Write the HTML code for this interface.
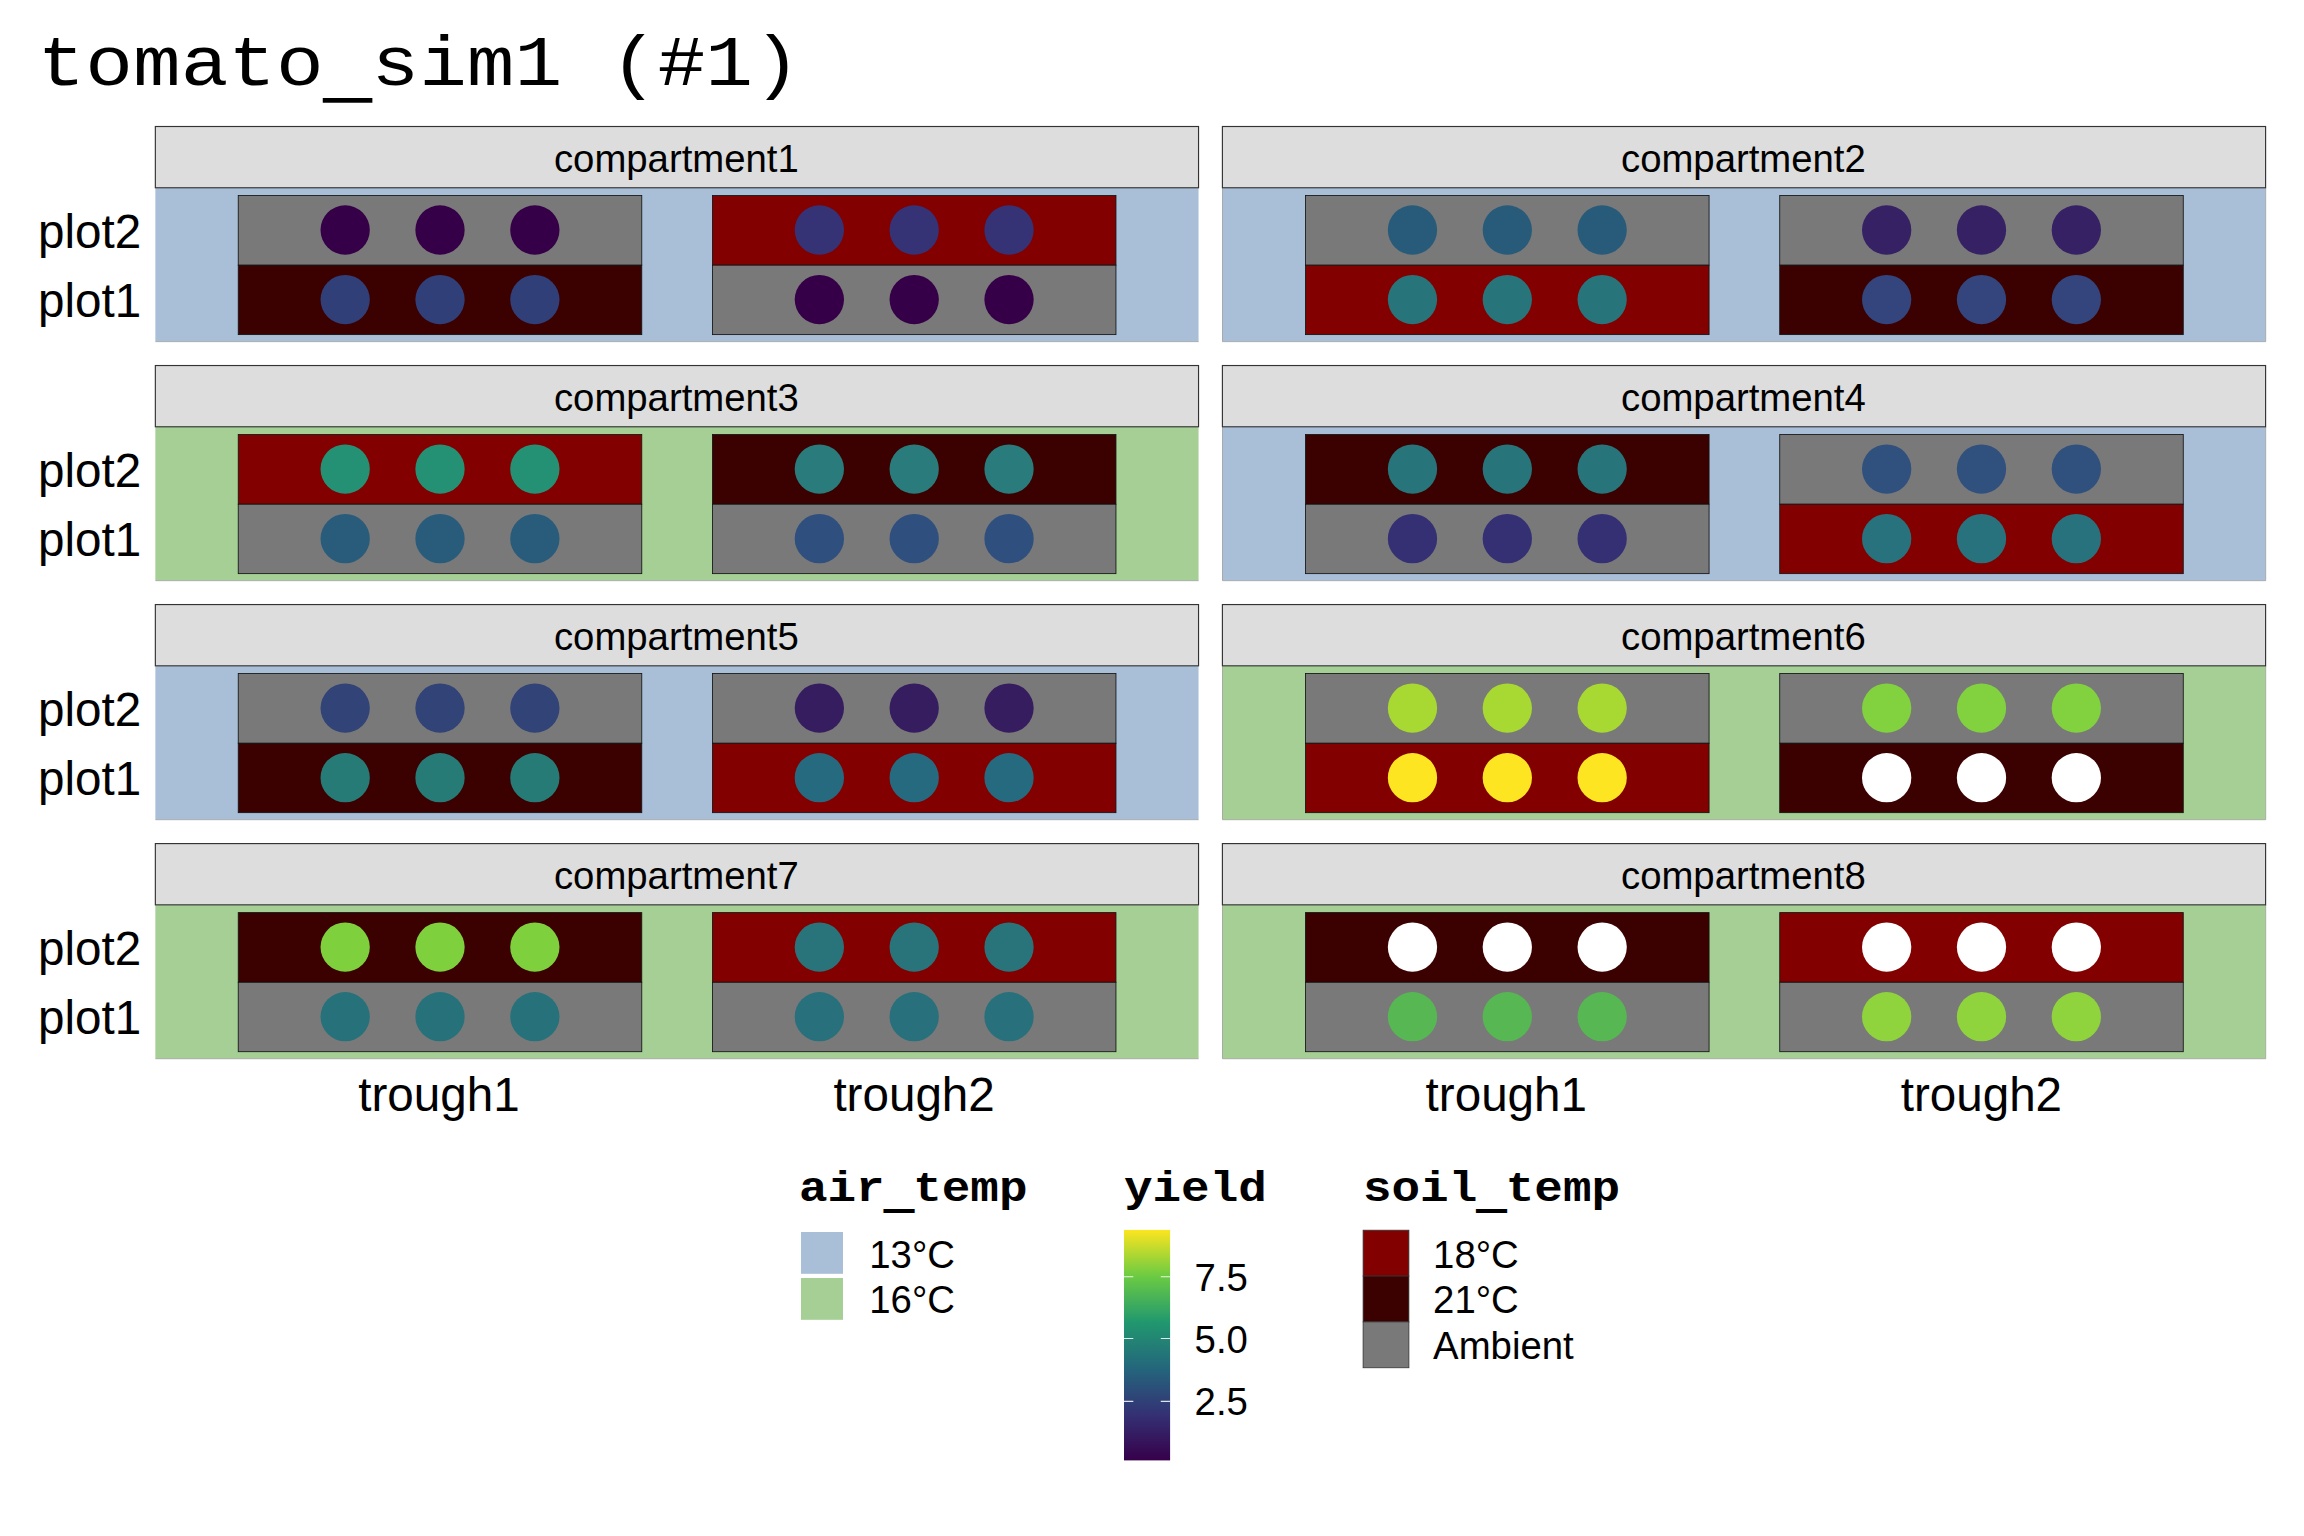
<!DOCTYPE html>
<html lang="en">
<head>
<meta charset="utf-8">
<title>tomato_sim1 (#1)</title>
<style>
html,body{margin:0;padding:0;background:#fff;}
body{width:2304px;height:1536px;overflow:hidden;}
svg{display:block;}
text{fill:#000;}
.sans{font-family:'Liberation Sans', sans-serif;}
.mono{font-family:'Liberation Mono', monospace;}
.title{font-size:79.5px;}
.axis{font-size:47.6px;}
.strip{font-size:38.3px;text-anchor:middle;}
.lab{font-size:38.35px;}
.ltitle{font-size:47.6px;font-weight:bold;}
</style>
</head>
<body>
<svg width="2304" height="1536" viewBox="0 0 2304 1536">
<rect x="0" y="0" width="2304" height="1536" fill="#ffffff"/>
<g transform="translate(0,84.6) scale(1,0.885) translate(0,-84.6)"><text class="mono title" x="37.6" y="84.6">tomato<tspan dy="11" stroke="#000" stroke-width="1.6">_</tspan><tspan dy="-11">sim1 (#1)</tspan></text></g>
<g>
<rect x="155.35" y="187.75" width="1043.2" height="153.8" fill="#A9BFD8"/>
<path d="M1198.65 341.65 H155.45" fill="none" stroke="#909090" stroke-opacity="0.8" stroke-width="0.8"/>
<rect x="238.24" y="195.5" width="403.53" height="69.7" fill="#797979" stroke="#141414" stroke-width="0.85"/>
<rect x="238.24" y="265.2" width="403.53" height="69.4" fill="#3B0000" stroke="#141414" stroke-width="0.85"/>
<circle cx="345.17" cy="230" r="24.65" fill="#350047"/><circle cx="440.01" cy="230" r="24.65" fill="#350047"/><circle cx="534.85" cy="230" r="24.65" fill="#350047"/>
<circle cx="345.17" cy="299.6" r="24.65" fill="#313F78"/><circle cx="440.01" cy="299.6" r="24.65" fill="#313F78"/><circle cx="534.85" cy="299.6" r="24.65" fill="#313F78"/>
<rect x="712.43" y="195.5" width="403.53" height="69.7" fill="#820000" stroke="#141414" stroke-width="0.85"/>
<rect x="712.43" y="265.2" width="403.53" height="69.4" fill="#797979" stroke="#141414" stroke-width="0.85"/>
<circle cx="819.35" cy="230" r="24.65" fill="#353375"/><circle cx="914.19" cy="230" r="24.65" fill="#353375"/><circle cx="1009.03" cy="230" r="24.65" fill="#353375"/>
<circle cx="819.35" cy="299.6" r="24.65" fill="#350047"/><circle cx="914.19" cy="299.6" r="24.65" fill="#350047"/><circle cx="1009.03" cy="299.6" r="24.65" fill="#350047"/>
<rect x="155.35" y="126.5" width="1043.2" height="61.25" fill="#DDDDDD" stroke="#333333" stroke-width="1.15"/>
<text class="sans strip" x="676.35" y="171.6">compartment1</text>
<text class="sans axis" text-anchor="end" x="141.3" y="247.8">plot2</text>
<text class="sans axis" text-anchor="end" x="141.3" y="317">plot1</text>
</g>
<g>
<rect x="1222.4" y="187.75" width="1043.2" height="153.8" fill="#A9BFD8"/>
<path d="M2265.7 187.75 V341.65 H1222.5 V187.75" fill="none" stroke="#909090" stroke-opacity="0.8" stroke-width="0.8"/>
<rect x="1305.54" y="195.5" width="403.53" height="69.7" fill="#797979" stroke="#141414" stroke-width="0.85"/>
<rect x="1305.54" y="265.2" width="403.53" height="69.4" fill="#820000" stroke="#141414" stroke-width="0.85"/>
<circle cx="1412.47" cy="230" r="24.65" fill="#285B7A"/><circle cx="1507.31" cy="230" r="24.65" fill="#285B7A"/><circle cx="1602.15" cy="230" r="24.65" fill="#285B7A"/>
<circle cx="1412.47" cy="299.6" r="24.65" fill="#27747A"/><circle cx="1507.31" cy="299.6" r="24.65" fill="#27747A"/><circle cx="1602.15" cy="299.6" r="24.65" fill="#27747A"/>
<rect x="1779.73" y="195.5" width="403.53" height="69.7" fill="#797979" stroke="#141414" stroke-width="0.85"/>
<rect x="1779.73" y="265.2" width="403.53" height="69.4" fill="#3B0000" stroke="#141414" stroke-width="0.85"/>
<circle cx="1886.65" cy="230" r="24.65" fill="#352163"/><circle cx="1981.49" cy="230" r="24.65" fill="#352163"/><circle cx="2076.33" cy="230" r="24.65" fill="#352163"/>
<circle cx="1886.65" cy="299.6" r="24.65" fill="#33457C"/><circle cx="1981.49" cy="299.6" r="24.65" fill="#33457C"/><circle cx="2076.33" cy="299.6" r="24.65" fill="#33457C"/>
<rect x="1222.4" y="126.5" width="1043.2" height="61.25" fill="#DDDDDD" stroke="#333333" stroke-width="1.15"/>
<text class="sans strip" x="1743.4" y="171.6">compartment2</text>
</g>
<g>
<rect x="155.35" y="426.78" width="1043.2" height="153.8" fill="#A5CF94"/>
<path d="M1198.65 580.68 H155.45" fill="none" stroke="#909090" stroke-opacity="0.8" stroke-width="0.8"/>
<rect x="238.24" y="434.53" width="403.53" height="69.7" fill="#820000" stroke="#141414" stroke-width="0.85"/>
<rect x="238.24" y="504.23" width="403.53" height="69.4" fill="#797979" stroke="#141414" stroke-width="0.85"/>
<circle cx="345.17" cy="469.03" r="24.65" fill="#259174"/><circle cx="440.01" cy="469.03" r="24.65" fill="#259174"/><circle cx="534.85" cy="469.03" r="24.65" fill="#259174"/>
<circle cx="345.17" cy="538.63" r="24.65" fill="#295C7B"/><circle cx="440.01" cy="538.63" r="24.65" fill="#295C7B"/><circle cx="534.85" cy="538.63" r="24.65" fill="#295C7B"/>
<rect x="712.43" y="434.53" width="403.53" height="69.7" fill="#3B0000" stroke="#141414" stroke-width="0.85"/>
<rect x="712.43" y="504.23" width="403.53" height="69.4" fill="#797979" stroke="#141414" stroke-width="0.85"/>
<circle cx="819.35" cy="469.03" r="24.65" fill="#2A7B7B"/><circle cx="914.19" cy="469.03" r="24.65" fill="#2A7B7B"/><circle cx="1009.03" cy="469.03" r="24.65" fill="#2A7B7B"/>
<circle cx="819.35" cy="538.63" r="24.65" fill="#2F4F7E"/><circle cx="914.19" cy="538.63" r="24.65" fill="#2F4F7E"/><circle cx="1009.03" cy="538.63" r="24.65" fill="#2F4F7E"/>
<rect x="155.35" y="365.53" width="1043.2" height="61.25" fill="#DDDDDD" stroke="#333333" stroke-width="1.15"/>
<text class="sans strip" x="676.35" y="410.63">compartment3</text>
<text class="sans axis" text-anchor="end" x="141.3" y="486.83">plot2</text>
<text class="sans axis" text-anchor="end" x="141.3" y="556.03">plot1</text>
</g>
<g>
<rect x="1222.4" y="426.78" width="1043.2" height="153.8" fill="#A9BFD8"/>
<path d="M2265.7 426.78 V580.68 H1222.5 V426.78" fill="none" stroke="#909090" stroke-opacity="0.8" stroke-width="0.8"/>
<rect x="1305.54" y="434.53" width="403.53" height="69.7" fill="#3B0000" stroke="#141414" stroke-width="0.85"/>
<rect x="1305.54" y="504.23" width="403.53" height="69.4" fill="#797979" stroke="#141414" stroke-width="0.85"/>
<circle cx="1412.47" cy="469.03" r="24.65" fill="#27757A"/><circle cx="1507.31" cy="469.03" r="24.65" fill="#27757A"/><circle cx="1602.15" cy="469.03" r="24.65" fill="#27757A"/>
<circle cx="1412.47" cy="538.63" r="24.65" fill="#343073"/><circle cx="1507.31" cy="538.63" r="24.65" fill="#343073"/><circle cx="1602.15" cy="538.63" r="24.65" fill="#343073"/>
<rect x="1779.73" y="434.53" width="403.53" height="69.7" fill="#797979" stroke="#141414" stroke-width="0.85"/>
<rect x="1779.73" y="504.23" width="403.53" height="69.4" fill="#820000" stroke="#141414" stroke-width="0.85"/>
<circle cx="1886.65" cy="469.03" r="24.65" fill="#30507E"/><circle cx="1981.49" cy="469.03" r="24.65" fill="#30507E"/><circle cx="2076.33" cy="469.03" r="24.65" fill="#30507E"/>
<circle cx="1886.65" cy="538.63" r="24.65" fill="#28727D"/><circle cx="1981.49" cy="538.63" r="24.65" fill="#28727D"/><circle cx="2076.33" cy="538.63" r="24.65" fill="#28727D"/>
<rect x="1222.4" y="365.53" width="1043.2" height="61.25" fill="#DDDDDD" stroke="#333333" stroke-width="1.15"/>
<text class="sans strip" x="1743.4" y="410.63">compartment4</text>
</g>
<g>
<rect x="155.35" y="665.81" width="1043.2" height="153.8" fill="#A9BFD8"/>
<path d="M1198.65 819.71 H155.45" fill="none" stroke="#909090" stroke-opacity="0.8" stroke-width="0.8"/>
<rect x="238.24" y="673.56" width="403.53" height="69.7" fill="#797979" stroke="#141414" stroke-width="0.85"/>
<rect x="238.24" y="743.26" width="403.53" height="69.4" fill="#3B0000" stroke="#141414" stroke-width="0.85"/>
<circle cx="345.17" cy="708.06" r="24.65" fill="#314377"/><circle cx="440.01" cy="708.06" r="24.65" fill="#314377"/><circle cx="534.85" cy="708.06" r="24.65" fill="#314377"/>
<circle cx="345.17" cy="777.66" r="24.65" fill="#277B77"/><circle cx="440.01" cy="777.66" r="24.65" fill="#277B77"/><circle cx="534.85" cy="777.66" r="24.65" fill="#277B77"/>
<rect x="712.43" y="673.56" width="403.53" height="69.7" fill="#797979" stroke="#141414" stroke-width="0.85"/>
<rect x="712.43" y="743.26" width="403.53" height="69.4" fill="#820000" stroke="#141414" stroke-width="0.85"/>
<circle cx="819.35" cy="708.06" r="24.65" fill="#351D5F"/><circle cx="914.19" cy="708.06" r="24.65" fill="#351D5F"/><circle cx="1009.03" cy="708.06" r="24.65" fill="#351D5F"/>
<circle cx="819.35" cy="777.66" r="24.65" fill="#266A80"/><circle cx="914.19" cy="777.66" r="24.65" fill="#266A80"/><circle cx="1009.03" cy="777.66" r="24.65" fill="#266A80"/>
<rect x="155.35" y="604.56" width="1043.2" height="61.25" fill="#DDDDDD" stroke="#333333" stroke-width="1.15"/>
<text class="sans strip" x="676.35" y="649.66">compartment5</text>
<text class="sans axis" text-anchor="end" x="141.3" y="725.86">plot2</text>
<text class="sans axis" text-anchor="end" x="141.3" y="795.06">plot1</text>
</g>
<g>
<rect x="1222.4" y="665.81" width="1043.2" height="153.8" fill="#A5CF94"/>
<path d="M2265.7 665.81 V819.71 H1222.5 V665.81" fill="none" stroke="#909090" stroke-opacity="0.8" stroke-width="0.8"/>
<rect x="1305.54" y="673.56" width="403.53" height="69.7" fill="#797979" stroke="#141414" stroke-width="0.85"/>
<rect x="1305.54" y="743.26" width="403.53" height="69.4" fill="#820000" stroke="#141414" stroke-width="0.85"/>
<circle cx="1412.47" cy="708.06" r="24.65" fill="#A8D933"/><circle cx="1507.31" cy="708.06" r="24.65" fill="#A8D933"/><circle cx="1602.15" cy="708.06" r="24.65" fill="#A8D933"/>
<circle cx="1412.47" cy="777.66" r="24.65" fill="#FDE621"/><circle cx="1507.31" cy="777.66" r="24.65" fill="#FDE621"/><circle cx="1602.15" cy="777.66" r="24.65" fill="#FDE621"/>
<rect x="1779.73" y="673.56" width="403.53" height="69.7" fill="#797979" stroke="#141414" stroke-width="0.85"/>
<rect x="1779.73" y="743.26" width="403.53" height="69.4" fill="#3B0000" stroke="#141414" stroke-width="0.85"/>
<circle cx="1886.65" cy="708.06" r="24.65" fill="#82D13F"/><circle cx="1981.49" cy="708.06" r="24.65" fill="#82D13F"/><circle cx="2076.33" cy="708.06" r="24.65" fill="#82D13F"/>
<circle cx="1886.65" cy="777.66" r="24.65" fill="#FFFFFF"/><circle cx="1981.49" cy="777.66" r="24.65" fill="#FFFFFF"/><circle cx="2076.33" cy="777.66" r="24.65" fill="#FFFFFF"/>
<rect x="1222.4" y="604.56" width="1043.2" height="61.25" fill="#DDDDDD" stroke="#333333" stroke-width="1.15"/>
<text class="sans strip" x="1743.4" y="649.66">compartment6</text>
</g>
<g>
<rect x="155.35" y="904.84" width="1043.2" height="153.8" fill="#A5CF94"/>
<path d="M1198.65 1058.74 H155.45" fill="none" stroke="#909090" stroke-opacity="0.8" stroke-width="0.8"/>
<rect x="238.24" y="912.59" width="403.53" height="69.7" fill="#3B0000" stroke="#141414" stroke-width="0.85"/>
<rect x="238.24" y="982.29" width="403.53" height="69.4" fill="#797979" stroke="#141414" stroke-width="0.85"/>
<circle cx="345.17" cy="947.09" r="24.65" fill="#7FD03D"/><circle cx="440.01" cy="947.09" r="24.65" fill="#7FD03D"/><circle cx="534.85" cy="947.09" r="24.65" fill="#7FD03D"/>
<circle cx="345.17" cy="1016.69" r="24.65" fill="#27727A"/><circle cx="440.01" cy="1016.69" r="24.65" fill="#27727A"/><circle cx="534.85" cy="1016.69" r="24.65" fill="#27727A"/>
<rect x="712.43" y="912.59" width="403.53" height="69.7" fill="#820000" stroke="#141414" stroke-width="0.85"/>
<rect x="712.43" y="982.29" width="403.53" height="69.4" fill="#797979" stroke="#141414" stroke-width="0.85"/>
<circle cx="819.35" cy="947.09" r="24.65" fill="#29747B"/><circle cx="914.19" cy="947.09" r="24.65" fill="#29747B"/><circle cx="1009.03" cy="947.09" r="24.65" fill="#29747B"/>
<circle cx="819.35" cy="1016.69" r="24.65" fill="#28707B"/><circle cx="914.19" cy="1016.69" r="24.65" fill="#28707B"/><circle cx="1009.03" cy="1016.69" r="24.65" fill="#28707B"/>
<rect x="155.35" y="843.59" width="1043.2" height="61.25" fill="#DDDDDD" stroke="#333333" stroke-width="1.15"/>
<text class="sans strip" x="676.35" y="888.69">compartment7</text>
<text class="sans axis" text-anchor="end" x="141.3" y="964.89">plot2</text>
<text class="sans axis" text-anchor="end" x="141.3" y="1034.09">plot1</text>
</g>
<g>
<rect x="1222.4" y="904.84" width="1043.2" height="153.8" fill="#A5CF94"/>
<path d="M2265.7 904.84 V1058.74 H1222.5 V904.84" fill="none" stroke="#909090" stroke-opacity="0.8" stroke-width="0.8"/>
<rect x="1305.54" y="912.59" width="403.53" height="69.7" fill="#3B0000" stroke="#141414" stroke-width="0.85"/>
<rect x="1305.54" y="982.29" width="403.53" height="69.4" fill="#797979" stroke="#141414" stroke-width="0.85"/>
<circle cx="1412.47" cy="947.09" r="24.65" fill="#FFFFFF"/><circle cx="1507.31" cy="947.09" r="24.65" fill="#FFFFFF"/><circle cx="1602.15" cy="947.09" r="24.65" fill="#FFFFFF"/>
<circle cx="1412.47" cy="1016.69" r="24.65" fill="#57B853"/><circle cx="1507.31" cy="1016.69" r="24.65" fill="#57B853"/><circle cx="1602.15" cy="1016.69" r="24.65" fill="#57B853"/>
<rect x="1779.73" y="912.59" width="403.53" height="69.7" fill="#820000" stroke="#141414" stroke-width="0.85"/>
<rect x="1779.73" y="982.29" width="403.53" height="69.4" fill="#797979" stroke="#141414" stroke-width="0.85"/>
<circle cx="1886.65" cy="947.09" r="24.65" fill="#FFFFFF"/><circle cx="1981.49" cy="947.09" r="24.65" fill="#FFFFFF"/><circle cx="2076.33" cy="947.09" r="24.65" fill="#FFFFFF"/>
<circle cx="1886.65" cy="1016.69" r="24.65" fill="#8FD43C"/><circle cx="1981.49" cy="1016.69" r="24.65" fill="#8FD43C"/><circle cx="2076.33" cy="1016.69" r="24.65" fill="#8FD43C"/>
<rect x="1222.4" y="843.59" width="1043.2" height="61.25" fill="#DDDDDD" stroke="#333333" stroke-width="1.15"/>
<text class="sans strip" x="1743.4" y="888.69">compartment8</text>
</g>
<text class="sans axis" text-anchor="middle" x="439.01" y="1110.8">trough1</text>
<text class="sans axis" text-anchor="middle" x="914.09" y="1110.8">trough2</text>
<text class="sans axis" text-anchor="middle" x="1506.31" y="1110.8">trough1</text>
<text class="sans axis" text-anchor="middle" x="1981.39" y="1110.8">trough2</text>
<g>
<g transform="translate(0,1201.5) scale(1,0.88) translate(0,-1201.5)"><text class="mono ltitle" x="799" y="1201.5">air<tspan dy="6.5" stroke="#000" stroke-width="2.4">_</tspan><tspan dy="-6.5">temp</tspan></text></g>
<rect x="801" y="1232" width="42" height="41.8" fill="#A9BFD8"/>
<rect x="801" y="1278" width="42" height="41.8" fill="#A5CF94"/>
<text class="sans lab" x="869.3" y="1267.5">13°C</text>
<text class="sans lab" x="869.3" y="1313.4">16°C</text>
</g>
<defs><linearGradient id="vg" x1="0" y1="1" x2="0" y2="0">
<stop offset="0" stop-color="#36004A"/><stop offset="0.2" stop-color="#343174"/><stop offset="0.4" stop-color="#24667C"/><stop offset="0.6" stop-color="#21986E"/><stop offset="0.8" stop-color="#6CCB42"/><stop offset="1" stop-color="#FCE51F"/>
</linearGradient></defs>
<g>
<g transform="translate(0,1201.5) scale(1,0.88) translate(0,-1201.5)"><text class="mono ltitle" x="1124" y="1201.5">yield</text></g>
<rect x="1124" y="1229.9" width="46.1" height="230.5" fill="url(#vg)"/>
<path d="M1124 1276.8 h9.3 M1160.8 1276.8 h9.3" stroke="#ffffff" stroke-opacity="0.85" stroke-width="1.1" fill="none"/>
<path d="M1124 1338.5 h9.3 M1160.8 1338.5 h9.3" stroke="#ffffff" stroke-opacity="0.85" stroke-width="1.1" fill="none"/>
<path d="M1124 1401.4 h9.3 M1160.8 1401.4 h9.3" stroke="#ffffff" stroke-opacity="0.85" stroke-width="1.1" fill="none"/>
<text class="sans lab" x="1194.6" y="1290.9">7.5</text>
<text class="sans lab" x="1194.6" y="1352.9">5.0</text>
<text class="sans lab" x="1194.6" y="1415">2.5</text>
</g>
<g>
<g transform="translate(0,1201.5) scale(1,0.88) translate(0,-1201.5)"><text class="mono ltitle" x="1363" y="1201.5">soil<tspan dy="6.5" stroke="#000" stroke-width="2.4">_</tspan><tspan dy="-6.5">temp</tspan></text></g>
<rect x="1363.1" y="1230.2" width="45.8" height="45.85" fill="#820000" stroke="#333333" stroke-width="0.8"/>
<text class="sans lab" x="1433.1" y="1267.5">18°C</text>
<rect x="1363.1" y="1276.05" width="45.8" height="45.85" fill="#3B0000" stroke="#333333" stroke-width="0.8"/>
<text class="sans lab" x="1433.1" y="1312.6">21°C</text>
<rect x="1363.1" y="1321.9" width="45.8" height="45.85" fill="#797979" stroke="#333333" stroke-width="0.8"/>
<text class="sans lab" x="1433.1" y="1358.6">Ambient</text>
</g>
</svg>
</body>
</html>
